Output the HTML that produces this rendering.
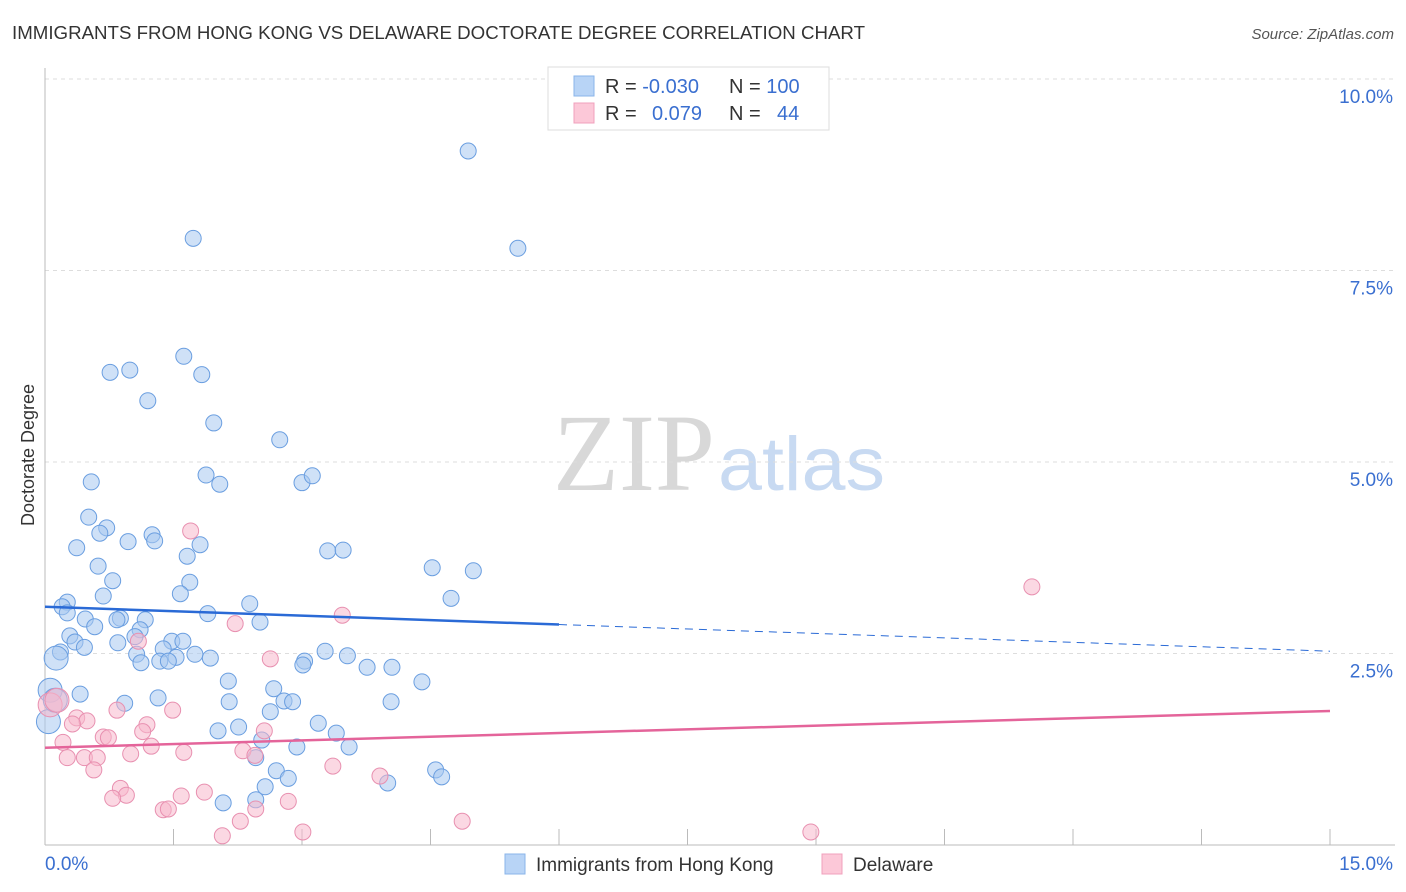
<!DOCTYPE html>
<html><head><meta charset="utf-8"><style>
body{margin:0;background:#fff;font-family:"Liberation Sans",sans-serif;}
#wrap{position:relative;width:1406px;height:892px;overflow:hidden;}
</style></head><body>
<div id="wrap">
<svg id="svg" width="1406" height="892" style="position:absolute;left:0;top:0">
<text x="12" y="39" font-size="18" fill="#333" textLength="853" lengthAdjust="spacingAndGlyphs">IMMIGRANTS FROM HONG KONG VS DELAWARE DOCTORATE DEGREE CORRELATION CHART</text>
<text x="1394" y="39" font-size="15" fill="#555" font-style="italic" text-anchor="end">Source: ZipAtlas.com</text>
<text x="34" y="455" font-size="18" fill="#333" text-anchor="middle" transform="rotate(-90 34 455)">Doctorate Degree</text>
<g><text x="553" y="490" font-size="110" font-family="Liberation Serif,serif" fill="#d8d8d8" textLength="162" lengthAdjust="spacingAndGlyphs">ZIP</text><text x="718" y="490" font-size="76" fill="#c8daf2" textLength="167" lengthAdjust="spacingAndGlyphs">atlas</text></g>
<g id="grid"></g><g id="marks"></g>
<g>
<rect x="548" y="67" width="281" height="63" fill="#fff" stroke="#ddd"/>
<rect x="574" y="76" width="20" height="20" fill="#b8d4f6" stroke="#8ab4ea"/>
<rect x="574" y="103" width="20" height="20" fill="#fcc8d8" stroke="#f0a0bc"/>
<text x="605" y="93" font-size="20" fill="#333">R = <tspan fill="#3a6fd0">-0.030</tspan><tspan x="729">N = </tspan><tspan fill="#3a6fd0">100</tspan></text>
<text x="605" y="120" font-size="20" fill="#333">R = <tspan x="652" fill="#3a6fd0">0.079</tspan><tspan x="729">N = </tspan><tspan x="777" fill="#3a6fd0">44</tspan></text>
</g>
<g>
<rect x="505" y="854" width="20" height="20" fill="#b8d4f6" stroke="#8ab4ea"/>
<text x="536" y="871" font-size="19" fill="#333">Immigrants from Hong Kong</text>
<rect x="822" y="854" width="20" height="20" fill="#fcc8d8" stroke="#f0a0bc"/>
<text x="853" y="871" font-size="19" fill="#333">Delaware</text>
</g>
</svg>
</div>
<script>
const xTicks=[0,15];
const yTicks=[2.5,5.0,7.5,10.0];
const blueX=[4.94,5.52,1.73,1.62,0.76,0.99,1.83,1.20,1.97,2.74,0.54,1.88,2.04,3.00,3.12,0.51,0.72,0.64,1.25,1.28,0.97,0.37,1.81,1.66,3.30,3.48,0.62,4.52,5.00,0.79,1.69,1.58,0.68,4.74,0.26,0.20,2.39,0.26,1.90,0.47,0.88,1.17,2.51,0.58,0.84,1.11,0.29,1.05,0.35,0.85,1.48,1.61,0.46,1.38,0.18,0.13,1.07,1.75,1.53,1.93,3.27,3.53,1.34,1.44,1.12,3.03,3.01,3.76,4.05,4.40,2.14,2.67,0.06,0.41,1.32,0.93,2.15,2.79,2.89,4.04,2.63,3.19,2.26,2.02,3.40,2.53,2.94,3.55,2.46,2.70,4.56,4.63,2.84,4.00,2.57,2.46,2.08,0.04,0.12];
const blueY=[9.06,7.79,7.92,6.38,6.17,6.20,6.14,5.80,5.51,5.29,4.74,4.83,4.71,4.73,4.82,4.28,4.14,4.07,4.05,3.97,3.96,3.88,3.92,3.77,3.84,3.85,3.64,3.62,3.58,3.45,3.43,3.28,3.25,3.22,3.17,3.11,3.15,3.03,3.02,2.95,2.96,2.94,2.91,2.85,2.94,2.81,2.73,2.72,2.65,2.64,2.66,2.66,2.58,2.56,2.52,2.44,2.49,2.49,2.45,2.44,2.53,2.47,2.40,2.40,2.38,2.40,2.35,2.32,2.32,2.13,2.14,2.04,2.02,1.97,1.92,1.85,1.87,1.88,1.87,1.87,1.74,1.59,1.54,1.49,1.46,1.37,1.28,1.28,1.14,0.97,0.98,0.89,0.87,0.81,0.76,0.59,0.55,1.61,1.89];
const pinkX=[1.70,11.52,3.47,2.22,1.09,2.63,0.06,0.84,1.49,0.37,0.49,0.32,1.19,2.56,1.14,0.68,0.74,0.21,1.24,1.62,1.00,2.31,2.45,0.26,0.46,0.61,0.57,3.36,3.91,0.88,0.95,0.79,1.59,1.86,2.84,1.38,1.44,2.46,2.28,4.87,3.01,2.07,8.94,0.14];
const pinkY=[4.10,3.37,3.00,2.89,2.66,2.43,1.83,1.76,1.76,1.66,1.62,1.58,1.57,1.49,1.48,1.41,1.40,1.34,1.29,1.21,1.19,1.23,1.17,1.14,1.14,1.14,0.98,1.03,0.90,0.74,0.65,0.61,0.64,0.69,0.57,0.46,0.47,0.47,0.31,0.31,0.17,0.12,0.17,1.89];
const blueTrend=[3.11,2.53];
const pinkTrend=[1.27,1.75];
const blueSolidEnd=6;
const X=v=>45+v*(1285/15);
const Y=v=>845-v*76.6;
const NS="http://www.w3.org/2000/svg";
function mk(tag,attrs,parent){const e=document.createElementNS(NS,tag);for(const k in attrs)e.setAttribute(k,attrs[k]);parent.appendChild(e);return e;}
const grid=document.getElementById('grid'),marks=document.getElementById('marks');
yTicks.forEach(t=>{
 const l=mk('line',{x1:45,x2:1395,y1:Y(t),y2:Y(t),stroke:'#ddd','stroke-dasharray':'4 4'},grid);
 
 
 const tx=mk('text',{x:1393,y:Y(t)+24,'font-size':19,fill:'#3a6fd0','text-anchor':'end'},grid);
 tx.textContent=t.toFixed(1)+'%';
 
 
});
const ax=mk('line',{x1:45,x2:1395,y1:845,y2:845,stroke:'#bbb'},grid);


const ay=mk('line',{x1:45,x2:45,y1:68,y2:845,stroke:'#bbb'},grid);


for(let i=1;i<=10;i++){const tk=mk('line',{x1:X(i*1.5),x2:X(i*1.5),y1:829,y2:845,stroke:'#bbb'},grid);
 
 }
xTicks.forEach((t,i)=>{const tx=mk('text',{x:i?1393:45,y:870,'font-size':19,fill:'#3a6fd0','text-anchor':i?'end':'start'},grid);
 tx.textContent=t.toFixed(1)+'%';
 
 });
function dots(xs,ys,fill,stroke,name){xs.forEach((x,i)=>{
 const big=(x<0.15);
 const c=mk('circle',{cx:X(x),cy:Y(ys[i]),r:big?12:8,fill:fill,'fill-opacity':0.55,stroke:stroke,'stroke-width':1},marks);
 
 });}
dots(blueX,blueY,'#a8c8f0','#6a9ee0','blue-point');
dots(pinkX,pinkY,'#f8b8cc','#e890b0','pink-point');
const bm=blueTrend[0]+(blueTrend[1]-blueTrend[0])*blueSolidEnd/15;
const b1=mk('line',{x1:X(0),y1:Y(blueTrend[0]),x2:X(blueSolidEnd),y2:Y(bm),stroke:'#2a6ad6','stroke-width':2.5},marks);


const b2=mk('line',{x1:X(blueSolidEnd),y1:Y(bm),x2:X(15),y2:Y(blueTrend[1]),stroke:'#2a6ad6','stroke-width':1,'stroke-dasharray':'8 6'},marks);


const p1=mk('line',{x1:X(0),y1:Y(pinkTrend[0]),x2:X(15),y2:Y(pinkTrend[1]),stroke:'#e4649a','stroke-width':2.5},marks);


</script>
</body></html>
